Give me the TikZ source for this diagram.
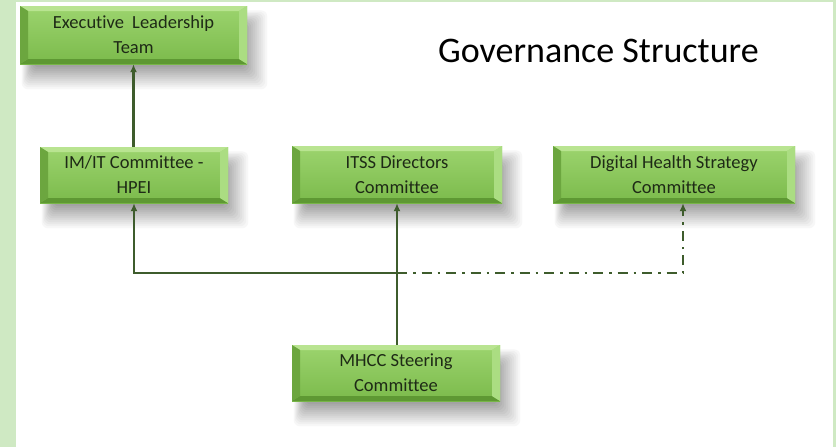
\documentclass[tikz,border=0pt]{standalone}
\usepackage{fontspec}
\setmainfont{Carlito}[Ligatures=NoCommon]
\usetikzlibrary{arrows.meta,calc}
\definecolor{framegreen}{HTML}{CFE9C3}
\definecolor{facetop}{HTML}{9CD46E}
\definecolor{facebot}{HTML}{7BBA4B}
\definecolor{beveltop}{HTML}{B9E491}
\definecolor{bevelleft}{HTML}{6CA63F}
\definecolor{bevelbot}{HTML}{5E9833}
\definecolor{bevelright}{HTML}{ABDD82}
\definecolor{boxtext}{HTML}{1E2A16}
\definecolor{linegreen}{HTML}{3E5C2C}
\pgfdeclarelayer{shadowlayer}
\pgfsetlayers{shadowlayer,main}
\newcommand{\boxshadow}[1]{%
  \begin{pgfonlayer}{shadowlayer}
  \foreach \k in {0,...,11}{
    \pgfmathsetmacro{\r}{12-2*\k}
    \pgfmathsetmacro{\g}{3+3*\k}
    \fill[black!\g, rounded corners=6pt]
      ($(#1.north west)+(8-0.5*\r,13-0.7*\r)$) rectangle
      ($(#1.south east)+(8+\r,13+\r)$);
  }
  \end{pgfonlayer}}
\tikzset{
  gbox/.style={
    draw=none, top color=facetop, bottom color=facebot,
    align=center, text=boxtext,
    font=\fontsize{18.5}{25}\selectfont, inner sep=0pt,
    path picture={
      \def\bx{8pt}\def\by{5pt}
      \fill[beveltop] (path picture bounding box.north west) -- (path picture bounding box.north east)
        -- ([xshift=-\bx,yshift=-\by]path picture bounding box.north east) -- ([xshift=\bx,yshift=-\by]path picture bounding box.north west) -- cycle;
      \fill[bevelbot] (path picture bounding box.south west) -- (path picture bounding box.south east)
        -- ([xshift=-\bx,yshift=\by]path picture bounding box.south east) -- ([xshift=\bx,yshift=\by]path picture bounding box.south west) -- cycle;
      \fill[bevelleft] (path picture bounding box.north west) -- (path picture bounding box.south west)
        -- ([xshift=\bx,yshift=\by]path picture bounding box.south west) -- ([xshift=\bx,yshift=-\by]path picture bounding box.north west) -- cycle;
      \fill[bevelright] (path picture bounding box.north east) -- (path picture bounding box.south east)
        -- ([xshift=-\bx,yshift=\by]path picture bounding box.south east) -- ([xshift=-\bx,yshift=-\by]path picture bounding box.north east) -- cycle;
    }
  },
  conn/.style={draw=linegreen, line width=2.8pt, -{Latex[length=8pt,width=7pt]}},
  dashconn/.style={draw=linegreen, line width=2.8pt, dash pattern=on 10pt off 6pt on 2.5pt off 6pt, -{Latex[length=8pt,width=7pt]}}
}
\begin{document}
\begin{tikzpicture}[x=1pt,y=-1pt]
\useasboundingbox (0,0) rectangle (836,447);
\begin{pgfonlayer}{shadowlayer}
\fill[framegreen] (0,0) rectangle (836,447);
\fill[white] (16,2) rectangle (833,447);
\end{pgfonlayer}

\node[gbox, minimum width=227pt, minimum height=58pt] (exec) at (133.5,35) {Executive\hspace{4pt} Leadership\\Team};
\node[gbox, minimum width=188pt, minimum height=56pt] (imit) at (134,175) {IM/IT Committee -\\HPEI};
\node[gbox, minimum width=210pt, minimum height=57pt] (itss) at (397,174.5) {ITSS Directors\\Committee};
\node[gbox, minimum width=242pt, minimum height=57pt] (dhs) at (674,174.5) {Digital Health Strategy\\Committee};
\node[gbox, minimum width=208pt, minimum height=56pt] (mhcc) at (396,373) {MHCC Steering\\Committee};
\boxshadow{exec}\boxshadow{imit}\boxshadow{itss}\boxshadow{dhs}\boxshadow{mhcc}

\node[anchor=base west, inner sep=0pt, font=\fontsize{36}{40}\selectfont] (title) at (438,62) {Governance Structure};

\coordinate (J) at (397,273);
\coordinate (R) at (683,273);

\draw[conn] (imit.north -| exec.south) -- (exec.south);
\draw[conn] (mhcc.north -| J) -- (J |- itss.south);
\draw[conn] (J) -| (imit.south);
\draw[dashconn] (J) -- (R) -- (R |- dhs.south);
\end{tikzpicture}
\end{document}
